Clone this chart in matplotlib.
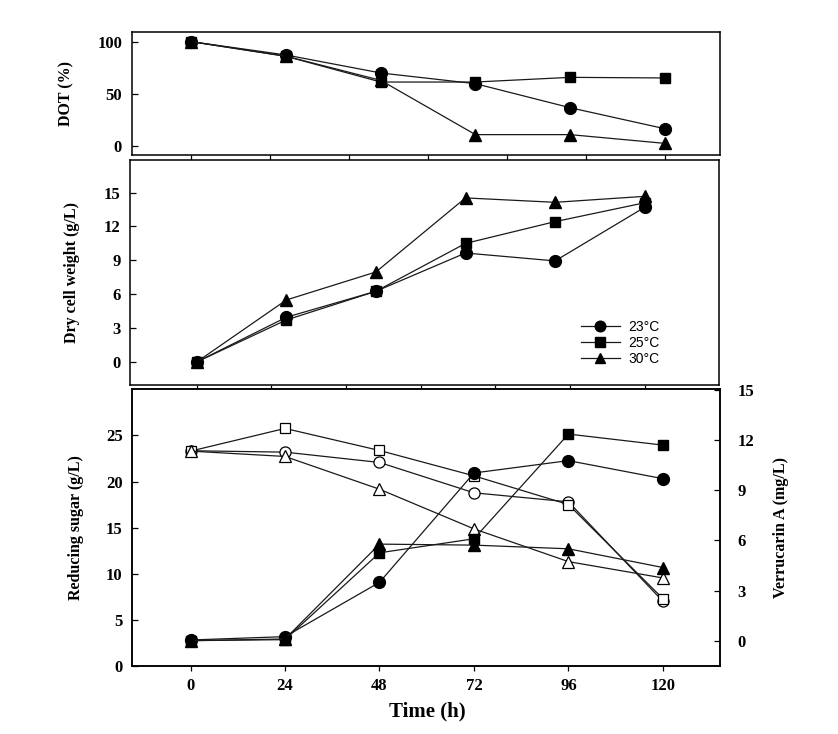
import matplotlib
matplotlib.use('Agg')
import matplotlib.pyplot as plt

# sampling times (h)
time = [0, 24, 48, 72, 96, 120]

# DOT (%)
dot_23 = [100, 87.2, 69.9, 59.6, 36.5, 16.3]
dot_25 = [100, 85.9, 61.2, 61.2, 65.7, 65.1]
dot_30 = [100, 86.0, 62.8, 10.6, 10.6, 2.2]

# dry cell weight (g/L)
dcw_23 = [0, 3.96, 6.26, 9.65, 8.95, 13.7]
dcw_25 = [0, 3.72, 6.26, 10.5, 12.43, 14.1]
dcw_30 = [0, 5.49, 7.97, 14.53, 14.14, 14.67]

# reducing sugar (g/L), open symbols
sugar_23 = [23.34, 23.19, 22.07, 18.78, 17.80, 7.02]
sugar_25 = [23.3, 25.76, 23.37, 20.62, 17.51, 7.31]
sugar_30 = [23.3, 22.72, 19.17, 14.87, 11.32, 9.55]

# verrucarin A (mg/L), filled symbols
verr_23 = [0.04, 0.24, 3.49, 10.04, 10.78, 9.70]
verr_25 = [0.0, 0.06, 5.26, 6.10, 12.37, 11.71]
verr_30 = [0.0, 0.1, 5.78, 5.72, 5.50, 4.38]

labels = ['23\u00b0C', '25\u00b0C', '30\u00b0C']
markers = ['o', 's', '^']
msizes = [8.5, 7.5, 8.5]

plt.rcParams['font.family'] = 'Liberation Serif'
plt.rcParams['font.weight'] = 'bold'
plt.rcParams['axes.linewidth'] = 1.1

fig = plt.figure(figsize=(8.38, 7.34), dpi=100)

ax1 = fig.add_axes([0.1572, 0.7884, 0.7024, 0.1684])
ax2 = fig.add_axes([0.1555, 0.4755, 0.7029, 0.3070])
ax3 = fig.add_axes([0.1579, 0.0926, 0.7017, 0.3770])
ax4 = ax3.twinx()

lc = '0.1'
lw = 0.9

for ys, m, ms in zip([dot_23, dot_25, dot_30], markers, msizes):
    ax1.plot(time, ys, color=lc, lw=lw, marker=m, ms=ms, mfc='black', mec='black')

handles = []
for ys, m, ms, lab in zip([dcw_23, dcw_25, dcw_30], markers, msizes, labels):
    h, = ax2.plot(time, ys, color=lc, lw=lw, marker=m, ms=ms, mfc='black', mec='black', label=lab)
    handles.append(h)

for ys, m, ms in zip([sugar_23, sugar_25, sugar_30], markers, [8, 7.5, 8]):
    ax3.plot(time, ys, color=lc, lw=lw, marker=m, ms=ms, mfc='white', mec='black', mew=0.9)

for ys, m, ms in zip([verr_23, verr_25, verr_30], markers, msizes):
    ax4.plot(time, ys, color=lc, lw=lw, marker=m, ms=ms, mfc='black', mec='black')

# axis ranges
ax1.set_xlim(-15.15, 134.1)
ax1.set_ylim(-9.3, 109.6)
ax2.set_xlim(-17.8, 140.0)
ax2.set_ylim(-2.04, 17.92)
ax3.set_xlim(-14.8, 134.6)
ax3.set_ylim(0, 30)
ax4.set_ylim(-1.52, 15.05)

ax1.set_xticks(range(0, 121, 20))
ax2.set_xticks(range(0, 121, 20))
ax1.set_yticks([0, 50, 100])
ax2.set_yticks(range(0, 16, 3))
ax3.set_xticks(time)
ax3.set_yticks(range(0, 26, 5))
ax4.set_yticks(range(0, 16, 3))

for ax in (ax1, ax2):
    ax.tick_params(axis='x', direction='out', length=3.5, width=0.9, labelbottom=False)
for ax in (ax1, ax2, ax3):
    ax.tick_params(axis='y', direction='in', length=4.3, width=0.9, pad=7, labelsize=12)
ax3.tick_params(axis='x', direction='out', length=3.5, width=0.9, pad=5, labelsize=12)
ax4.tick_params(axis='y', direction='in', length=4.3, width=0.9, pad=12.5, labelsize=12)

# axis titles
fig.text(66 / 838, 1 - 93.5 / 734, 'DOT (%)', rotation=90, ha='center', va='center',
         fontsize=11.5, fontweight='bold')
fig.text(72 / 838, 1 - 272.3 / 734, 'Dry cell weight (g/L)', rotation=90, ha='center',
         va='center', fontsize=11.5, fontweight='bold')
fig.text(76 / 838, 1 - 528 / 734, 'Reducing sugar (g/L)', rotation=90, ha='center',
         va='center', fontsize=11.5, fontweight='bold')
fig.text(781 / 838, 1 - 528 / 734, 'Verrucarin A (mg/L)', rotation=90, ha='center',
         va='center', fontsize=11.5, fontweight='bold')
fig.text(427 / 838, 1 - 711 / 734, 'Time (h)', ha='center', va='center',
         fontsize=15, fontweight='bold')

leg = ax2.legend(handles=handles, loc='center left', frameon=False,
                 bbox_to_anchor=(574 / 838, 1 - 343 / 734), bbox_transform=fig.transFigure,
                 prop={'family': 'Liberation Sans', 'size': 10, 'weight': 'normal'},
                 borderpad=0, handlelength=2.8, handletextpad=0.6, labelspacing=0.15,
                 markerscale=0.9)

fig.savefig('out.png', dpi=100)
